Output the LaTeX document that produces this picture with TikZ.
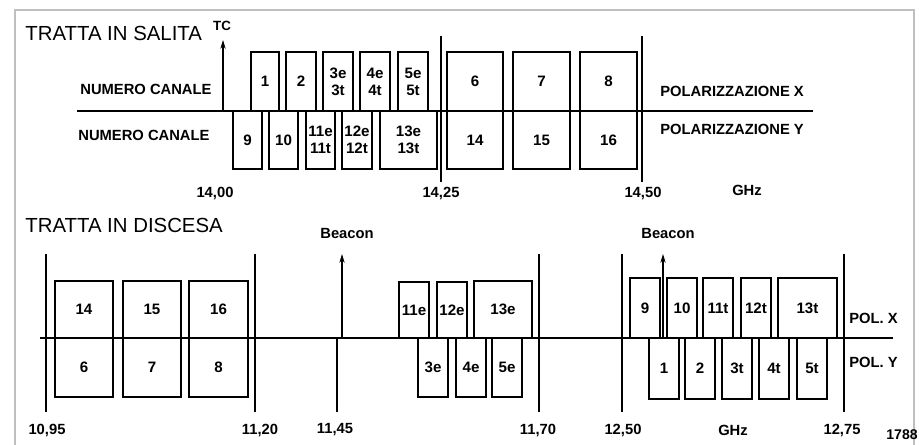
\documentclass[tikz,border=0pt]{standalone}
\usepackage{fontspec}
\setmainfont{Liberation Sans}
\usetikzlibrary{arrows.meta}

\begin{document}
\begin{tikzpicture}[x=0.02cm, y=-0.02cm,
  chbox/.style={draw, line width=0.7pt},
  chlabel/.style={font=\fontsize{8.6}{9.8}\selectfont\bfseries, align=center, inner sep=0pt},
  lbl/.style={font=\fontsize{8.4}{10}\selectfont\bfseries, inner sep=0pt},
  title/.style={font=\fontsize{11.6}{13}\selectfont, anchor=west, inner sep=0pt},
  axis/.style={line width=0.9pt},
  freqline/.style={line width=0.6pt},
  carrier/.style={line width=0.7pt, -{Stealth[length=5pt, width=3pt]}}]
\useasboundingbox (0,0) rectangle (919,445);
\draw[gray!50, line width=0.8pt] (15,445) -- (15,10) -- (914,10) -- (914,445);

% tratta in salita
\node[title] (salita) at (25,33) {TRATTA IN SALITA};
\coordinate (upL) at (77,111);
\coordinate (upR) at (813,111);
\draw[axis] (upL) -- (upR);
\foreach \xa/\xb/\txt in {251/279/1, 286/316/2, 323/353/{3e\\3t}, 360/390/{4e\\4t}, 398/428/{5e\\5t},
    447/503/6, 513/570/7, 580/637/8}
  \draw[chbox] (\xa,52) rectangle node[chlabel] {\txt} (\xb,111);
\foreach \xa/\xb/\txt in {233/262/9, 269/298/10, 306/335/{11e\\11t}, 342/372/{12e\\12t}, 380/437/{13e\\13t},
    447/503/14, 513/570/15, 580/637/16}
  \draw[chbox] (\xa,111) rectangle node[chlabel] {\txt} (\xb,169);
\foreach \x in {441,642} \draw[freqline] (\x,36) -- (\x,182);
\coordinate (tc) at (223,111);
\draw[carrier] (tc) -- ++(0,-71);
\node[font=\fontsize{7.6}{8}\selectfont\bfseries, inner sep=0pt] (tclbl) at (222,26) {TC};
\node[lbl, anchor=west] (ncx) at (80,89) {NUMERO CANALE};
\node[lbl, anchor=west] (ncy) at (78,135) {NUMERO CANALE};
\node[lbl, anchor=west] (polx) at (660,91) {POLARIZZAZIONE X};
\node[lbl, anchor=west] (poly) at (660,129) {POLARIZZAZIONE Y};
\foreach \x/\f in {215/{14,00}, 441/{14,25}, 643/{14,50}}
  \node[lbl] at (\x,193) {\f};
\node[lbl] (ghzup) at (747,190) {GHz};

% tratta in discesa
\node[title] (discesa) at (25,225) {TRATTA IN DISCESA};
\coordinate (dnL) at (40,338);
\coordinate (dnR) at (893,338);
\draw[axis] (dnL) -- (dnR);
\foreach \xa/\xb/\yt/\txt in {55/113/281/14, 123/181/281/15, 189/248/281/16, 399/429/282/11e, 437/467/282/12e,
    474/532/281/13e, 630/660/278/9, 667/697/278/10, 703/733/278/11t, 741/771/278/12t, 778/837/278/13t}
  \draw[chbox] (\xa,\yt) rectangle node[chlabel] {\txt} (\xb,338);
\foreach \xa/\xb/\yb/\txt in {55/113/397/6, 123/181/397/7, 189/248/397/8, 418/448/397/3e, 456/486/397/4e,
    492/522/397/5e, 649/679/399/1, 685/715/399/2, 722/752/399/3t, 759/789/399/4t, 797/827/399/5t}
  \draw[chbox] (\xa,338) rectangle node[chlabel] {\txt} (\xb,\yb);
\foreach \x in {46,255,539,622,844} \draw[freqline] (\x,254) -- (\x,412);
\draw[freqline] (337,338) -- (337,412);
\coordinate (bcn1) at (342,338);
\coordinate (bcn2) at (663,338);
\draw[carrier] (bcn1) -- ++(0,-84);
\draw[carrier] (bcn2) -- ++(0,-84);
\node[lbl] (bcnlbl1) at (347,233) {Beacon};
\node[lbl] (bcnlbl2) at (668,233) {Beacon};
\node[lbl, anchor=west] (polxd) at (849,318) {POL. X};
\node[lbl, anchor=west] (polyd) at (849,362) {POL. Y};
\foreach \x/\f in {47/{10,95}, 260/{11,20}, 335/{11,45}, 538/{11,70}, 623/{12,50}, 842/{12,75}}
  \node[lbl] at (\x,430) {\f};
\node[lbl] (ghzdn) at (733,430) {GHz};
\node[font=\fontsize{8}{9}\selectfont\bfseries, inner sep=0pt] (fignum) at (902,435) {1788};
\end{tikzpicture}
\end{document}
